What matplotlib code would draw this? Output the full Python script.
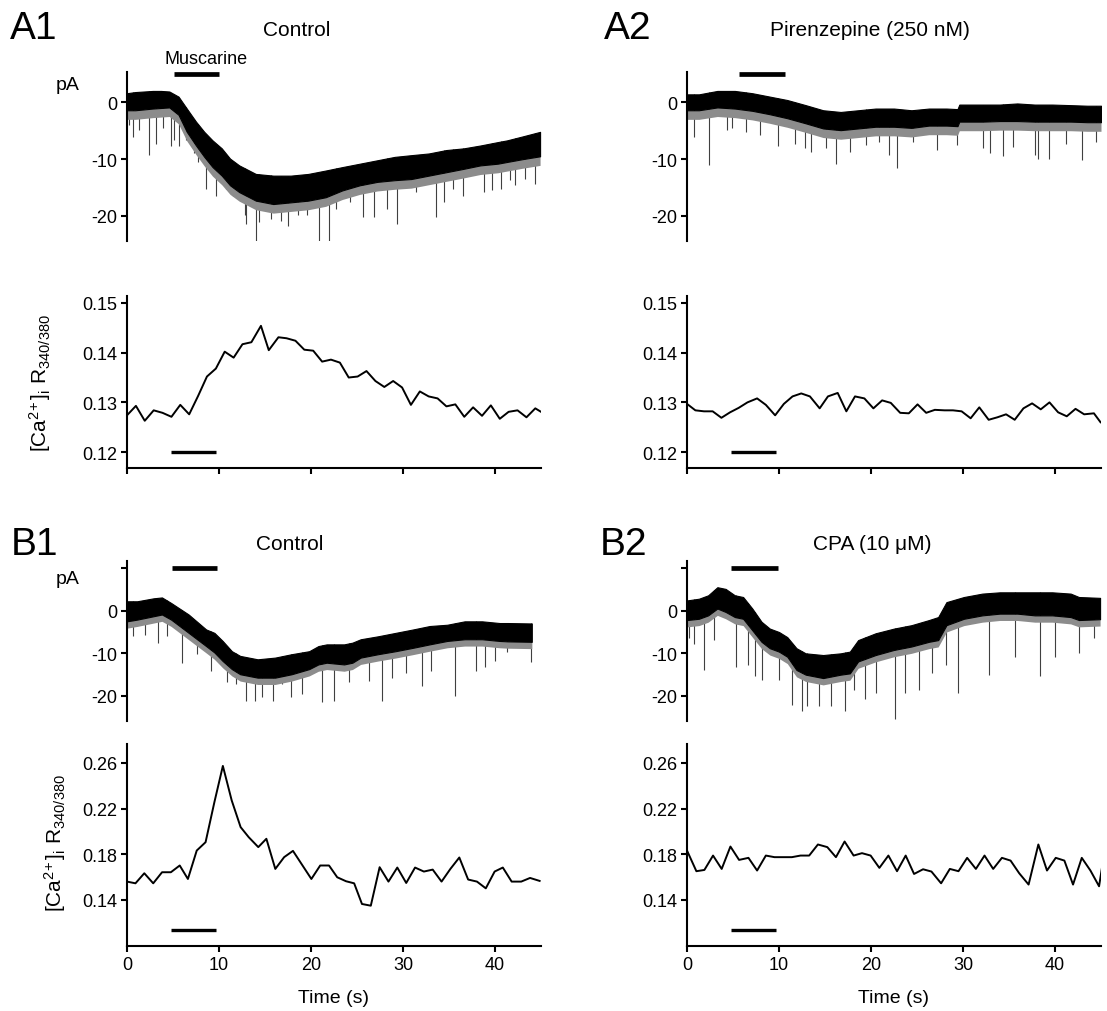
import numpy as np
import matplotlib
matplotlib.use('Agg')
import matplotlib.pyplot as plt

plt.rcParams['font.family'] = ['Liberation Sans', 'DejaVu Sans']
plt.rcParams['mathtext.fontset'] = 'custom'
plt.rcParams['mathtext.rm'] = 'Liberation Sans'
plt.rcParams['mathtext.it'] = 'Liberation Sans:italic'
plt.rcParams['mathtext.bf'] = 'Liberation Sans:bold'

# ---------------- current traces: band envelopes (pA) ----------------
a1_t = [0, 0.9, 2.8, 3.7, 4.6, 5.6, 6.5, 7.5, 8.4, 9.3, 10.3, 11.2, 12.2, 14.0, 15.9,
        17.8, 19.7, 21.6, 23.4, 25.3, 27.2, 29.1, 30.9, 32.8, 34.7, 36.6, 38.4, 40.3,
        41.3, 43.0, 44.9]
a1_up = [1.6, 1.8, 2.0, 2.0, 1.9, 1.0, -1.1, -3.4, -5.2, -6.7, -8.1, -9.9, -11.1, -12.6,
         -12.9, -12.9, -12.6, -12.0, -11.4, -10.8, -10.2, -9.6, -9.3, -9.0, -8.4, -8.1,
         -7.6, -7.0, -6.7, -6.0, -5.2]
a1_lo = [-1.4, -1.4, -1.1, -1.0, -0.9, -2.2, -5.2, -7.6, -9.6, -11.4, -12.9, -14.6, -15.8,
         -17.3, -17.9, -17.6, -17.3, -16.7, -15.5, -14.6, -14.0, -13.7, -13.5, -12.9,
         -12.3, -11.7, -11.1, -10.8, -10.5, -10.0, -9.5]
a1_spk_t = [0.2, 0.6, 1.3, 2.4, 3.2, 3.9, 4.8, 5.1, 5.7, 6.4, 7.3, 7.7, 8.6, 9.7, 10.8,
            11.5, 12.8, 12.9, 14.0, 14.4, 15.7, 16.7, 17.5, 18.6, 19.6, 20.9, 22.0, 22.7,
            24.2, 25.6, 26.9, 28.3, 29.4, 31.4, 33.6, 34.5, 35.4, 36.5, 38.8, 39.7, 40.7,
            41.6, 42.2, 43.3, 44.4]
a1_spk_v = [-4.0, -6.1, -4.9, -9.2, -7.3, -4.6, -7.6, -6.7, -7.6, -6.7, -9.0, -10.5, -15.2,
            -16.4, -15.2, -16.4, -19.9, -21.4, -24.4, -21.1, -20.5, -20.8, -21.7, -19.9,
            -19.9, -24.4, -24.4, -18.8, -17.6, -20.2, -20.2, -18.8, -21.4, -15.8, -20.2,
            -17.6, -15.2, -16.4, -15.8, -15.5, -15.2, -13.7, -14.6, -13.5, -14.3]

a2_t = [0, 1.3, 3.3, 5.2, 7.1, 9.0, 10.9, 12.9, 14.8, 16.7, 18.6, 20.5, 22.5, 24.4, 26.3,
        28.2, 29.4, 29.6, 32.1, 34.0, 35.9, 37.8, 39.7, 41.7, 43.5, 45.0]
a2_up = [1.4, 1.4, 2.0, 2.0, 1.6, 1.0, 0.4, -0.5, -1.4, -1.7, -1.4, -1.1, -1.1, -1.4, -1.1,
         -1.1, -1.2, -0.4, -0.4, -0.4, -0.2, -0.4, -0.4, -0.5, -0.6, -0.6]
a2_lo = [-1.4, -1.4, -0.9, -1.1, -1.5, -2.1, -2.8, -3.7, -4.6, -4.9, -4.6, -4.3, -4.3, -4.5,
         -4.1, -4.1, -4.2, -3.4, -3.4, -3.3, -3.3, -3.4, -3.4, -3.4, -3.5, -3.5]
a2_spk_t = [0.8, 2.4, 4.3, 4.9, 6.4, 7.9, 9.9, 11.7, 12.8, 13.5, 15.1, 16.2, 17.7, 19.5,
            20.9, 22.0, 22.8, 24.6, 27.2, 29.3, 32.2, 32.9, 34.3, 35.4, 37.8, 38.2, 39.3,
            41.2, 42.9, 44.5]
a2_spk_v = [-6.1, -11.0, -4.9, -4.6, -5.2, -5.8, -7.6, -7.3, -8.1, -8.7, -8.1, -10.8, -8.7,
            -7.5, -7.0, -9.2, -11.6, -7.0, -8.4, -7.5, -8.1, -9.0, -9.4, -7.8, -9.2, -10.0,
            -10.0, -7.3, -10.2, -6.9]

b1_t = [0, 1.1, 2.9, 3.8, 4.8, 6.7, 8.6, 9.5, 10.4, 11.4, 12.3, 14.2, 16.1, 17.9, 19.8,
        20.8, 21.7, 23.6, 24.5, 25.4, 27.3, 29.2, 31.1, 32.9, 34.8, 36.7, 38.6, 40.5,
        41.4, 44.0]
b1_up = [2.2, 2.2, 2.9, 3.1, 1.8, -0.9, -4.4, -5.2, -7.1, -9.5, -10.6, -11.4, -11.0, -10.2,
         -9.5, -8.3, -7.9, -7.9, -7.5, -6.7, -6.0, -5.2, -4.4, -3.6, -3.3, -2.5, -2.5,
         -2.9, -2.9, -3.0]
b1_lo = [-2.5, -2.1, -1.3, -0.9, -2.1, -5.2, -8.3, -9.8, -11.8, -13.7, -14.9, -15.7, -15.7,
         -14.9, -13.7, -12.6, -12.2, -12.6, -12.2, -11.0, -10.2, -9.5, -8.7, -7.9, -7.1,
         -6.7, -6.7, -7.1, -7.2, -7.3]
b1_spk_t = [0.7, 2.0, 3.4, 4.3, 6.0, 7.6, 9.1, 10.9, 11.8, 12.9, 13.9, 14.7, 15.9, 16.8,
            17.8, 19.0, 21.2, 22.5, 24.1, 26.3, 27.7, 28.8, 30.3, 32.1, 33.0, 35.7, 37.9,
            38.9, 40.0, 41.3, 43.9]
b1_spk_v = [-6.0, -5.6, -7.5, -6.0, -12.2, -10.2, -14.1, -16.8, -17.2, -21.1, -21.1, -20.3,
            -21.1, -17.2, -20.3, -19.5, -21.5, -21.1, -16.8, -16.4, -21.1, -15.7, -14.5,
            -17.6, -14.1, -19.9, -14.1, -13.3, -11.8, -9.8, -12.1]

b2_t = [0, 1.3, 2.3, 3.3, 4.2, 5.2, 6.1, 7.1, 8.1, 9.0, 10.0, 10.9, 11.9, 12.9, 14.8, 16.7,
        17.7, 18.6, 20.5, 22.5, 24.4, 26.3, 27.3, 28.2, 30.1, 32.1, 34.0, 35.9, 37.8, 39.7,
        41.7, 42.6, 44.9]
b2_up = [2.4, 2.8, 3.6, 5.5, 5.1, 3.6, 3.2, 0.5, -2.6, -4.2, -5.0, -6.2, -8.8, -10.0, -10.4,
         -10.0, -9.6, -6.9, -5.3, -4.2, -3.4, -2.2, -1.5, 2.0, 3.2, 4.0, 4.3, 4.3, 4.3, 4.3,
         4.0, 3.2, 3.0]
b2_lo = [-2.2, -1.9, -1.1, 0.5, -0.3, -1.5, -1.9, -4.6, -7.3, -8.8, -9.6, -10.8, -13.9,
         -15.0, -15.8, -15.0, -14.7, -11.9, -10.4, -9.2, -8.4, -7.3, -6.9, -3.4, -1.9, -1.1,
         -0.7, -0.7, -1.1, -1.1, -1.5, -2.2, -2.0]
b2_spk_t = [0.2, 0.8, 1.8, 2.9, 5.3, 6.6, 7.4, 8.2, 10.0, 11.4, 12.5, 13.0, 14.3, 15.6, 17.2,
            18.1, 19.4, 20.5, 22.6, 23.7, 25.2, 26.6, 28.1, 29.5, 32.8, 35.7, 38.4, 40.0,
            42.6, 44.2]
b2_spk_v = [-6.5, -7.7, -13.9, -6.9, -13.2, -12.8, -15.4, -16.2, -16.2, -22.0, -23.6, -22.4,
            -22.4, -22.4, -23.6, -18.5, -20.8, -19.3, -25.5, -19.3, -18.5, -14.6, -12.7,
            -19.3, -15.0, -10.8, -15.4, -10.8, -10.0, -6.5]

# ---------------- calcium ratio traces ----------------
a1_ca_t = [0, 0.97, 1.93, 2.90, 3.86, 4.83, 5.79, 6.76, 7.73, 8.69, 9.66, 10.62, 11.59,
           12.55, 13.52, 14.56, 15.41, 16.46, 17.34, 18.31, 19.27, 20.24, 21.21, 22.17,
           23.14, 24.10, 25.07, 26.03, 27.00, 27.97, 28.93, 29.90, 30.86, 31.83, 32.79,
           33.76, 34.72, 35.69, 36.66, 37.62, 38.59, 39.55, 40.52, 41.48, 42.45, 43.42,
           44.38, 45.0]
a1_ca_v = [0.1274, 0.1293, 0.1263, 0.1284, 0.1279, 0.1271, 0.1295, 0.1276, 0.1313, 0.1352,
           0.1368, 0.1402, 0.1390, 0.1417, 0.1421, 0.1454, 0.1405, 0.1431, 0.1429, 0.1424,
           0.1406, 0.1404, 0.1382, 0.1386, 0.1380, 0.1350, 0.1352, 0.1363, 0.1343, 0.1331,
           0.1343, 0.1330, 0.1295, 0.1322, 0.1312, 0.1308, 0.1292, 0.1296, 0.1271, 0.1290,
           0.1273, 0.1294, 0.1267, 0.1281, 0.1284, 0.1270, 0.1288, 0.1281]

a2_ca_t = [0, 0.91, 1.85, 2.79, 3.74, 4.68, 5.62, 6.57, 7.62, 8.57, 9.58, 10.53, 11.47,
           12.42, 13.36, 14.42, 15.32, 16.38, 17.32, 18.26, 19.28, 20.26, 21.21, 22.15,
           23.17, 24.11, 25.06, 26.00, 26.94, 28.00, 28.91, 29.85, 30.83, 31.77, 32.79,
           33.74, 34.68, 35.62, 36.57, 37.51, 38.45, 39.40, 40.34, 41.28, 42.23, 43.17,
           44.23, 44.95]
a2_ca_v = [0.1297, 0.1284, 0.1282, 0.1282, 0.1269, 0.1280, 0.1289, 0.1300, 0.1308, 0.1295,
           0.1274, 0.1297, 0.1312, 0.1318, 0.1312, 0.1288, 0.1312, 0.1319, 0.1282, 0.1312,
           0.1308, 0.1288, 0.1304, 0.1299, 0.1279, 0.1278, 0.1296, 0.1279, 0.1285, 0.1284,
           0.1284, 0.1282, 0.1268, 0.1290, 0.1265, 0.1270, 0.1276, 0.1265, 0.1288, 0.1298,
           0.1286, 0.1300, 0.1280, 0.1272, 0.1287, 0.1276, 0.1278, 0.1260]

b1_ca_t = [0, 0.92, 1.88, 2.85, 3.81, 4.77, 5.73, 6.62, 7.58, 8.54, 9.50, 10.42, 11.38,
           12.35, 13.23, 14.27, 15.15, 16.12, 17.08, 18.04, 19.08, 20.04, 21.00, 21.96,
           22.85, 23.81, 24.69, 25.54, 26.50, 27.46, 28.42, 29.38, 30.35, 31.31, 32.27,
           33.23, 34.19, 35.15, 36.12, 37.08, 38.04, 39.00, 39.96, 40.85, 41.81, 42.85,
           43.81, 44.85]
b1_ca_v = [0.1561, 0.1546, 0.1634, 0.1546, 0.1643, 0.1643, 0.1702, 0.1584, 0.1833, 0.1906,
           0.2257, 0.2574, 0.2272, 0.2038, 0.1950, 0.1863, 0.1936, 0.1672, 0.1775, 0.1830,
           0.1702, 0.1584, 0.1702, 0.1702, 0.1599, 0.1564, 0.1546, 0.1365, 0.1350, 0.1687,
           0.1561, 0.1684, 0.1549, 0.1684, 0.1649, 0.1666, 0.1561, 0.1672, 0.1772, 0.1579,
           0.1561, 0.1502, 0.1649, 0.1684, 0.1561, 0.1561, 0.1593, 0.1567]

b2_ca_t = [0, 1.02, 1.89, 2.83, 3.77, 4.72, 5.66, 6.68, 7.62, 8.57, 9.51, 10.45, 11.40,
           12.34, 13.28, 14.23, 15.25, 16.19, 17.13, 18.11, 19.02, 19.96, 20.91, 21.89,
           22.83, 23.77, 24.68, 25.66, 26.57, 27.62, 28.57, 29.51, 30.45, 31.40, 32.34,
           33.28, 34.23, 35.17, 36.11, 37.13, 38.19, 39.13, 40.08, 41.02, 41.96, 42.91,
           43.85, 44.79, 45.17]
b2_ca_v = [0.1833, 0.1652, 0.1663, 0.1789, 0.1672, 0.1868, 0.1751, 0.1769, 0.1658, 0.1789,
           0.1775, 0.1775, 0.1775, 0.1789, 0.1789, 0.1886, 0.1863, 0.1775, 0.1912, 0.1789,
           0.1810, 0.1789, 0.1681, 0.1789, 0.1652, 0.1789, 0.1628, 0.1669, 0.1649, 0.1546,
           0.1672, 0.1652, 0.1769, 0.1672, 0.1789, 0.1672, 0.1769, 0.1745, 0.1634, 0.1535,
           0.1886, 0.1658, 0.1769, 0.1745, 0.1535, 0.1769, 0.1658, 0.1520, 0.1716]

# drug application bars (s)
bar_a1 = [5.1, 10.0]
bar_a2 = [5.7, 10.6]
bar_b1 = [4.9, 9.8]
bar_b2 = [4.8, 9.9]
bar_ca = [4.8, 9.7]

panel_letters = ['A1', 'A2', 'B1', 'B2']
titles = ['Control', 'Pirenzepine (250 nM)', 'Control', 'CPA (10 \u03bcM)']
ca_label = r'$[\mathrm{Ca}^{2\!+}]_\mathrm{i}\ \mathrm{R}_{340/380}$'

# ---------------- layout ----------------
W, H = 1107, 1012
fig = plt.figure(figsize=(W / 100, H / 100), dpi=100)


def add_ax(x0, x1, ytop, ybot):
    return fig.add_axes([x0 / W, 1 - ybot / H, (x1 - x0) / W, (ybot - ytop) / H])


def ftext(x, y, s, **kw):
    fig.text(x / W, 1 - y / H, s, ha='center', va='center', **kw)


LW = 1.5
TICK_FS = 13


def current_panel(ax, t, up, lo, st, sv, ylim, yticks, ylabels, bar, bar_y):
    t = np.asarray(t); up = np.asarray(up); lo = np.asarray(lo)
    base = np.interp(st, t, up)
    ax.vlines(st, sv, base, color='0.25', lw=0.8, zorder=2)
    # fringe of unresolved small events below the dense band
    ax.fill_between(t, lo - 1.6, lo, color='0.55', lw=0, zorder=2.5)
    ax.fill_between(t, lo, up, facecolor='black', edgecolor='black', lw=0.8, zorder=3)
    ax.set_xlim(0, 45)
    ax.set_ylim(*ylim)
    for s in ['top', 'right', 'bottom']:
        ax.spines[s].set_visible(False)
    ax.spines['left'].set_linewidth(LW)
    ax.set_xticks([])
    ax.set_yticks(yticks)
    ax.set_yticklabels(ylabels)
    ax.tick_params(axis='y', direction='out', length=4, width=LW, labelsize=TICK_FS, pad=3)
    ax.plot(bar, [bar_y, bar_y], color='black', lw=3.4, solid_capstyle='butt',
            clip_on=False, zorder=5)
    ax.patch.set_visible(False)


def ca_panel(ax, t, v, ylim, yticks, ylabels, bar, bar_y, xlabels):
    ax.plot(t, v, color='black', lw=1.4, zorder=3)
    ax.set_xlim(0, 45)
    ax.set_ylim(*ylim)
    for s in ['top', 'right']:
        ax.spines[s].set_visible(False)
    ax.spines['left'].set_linewidth(LW)
    ax.spines['bottom'].set_linewidth(LW)
    ax.set_yticks(yticks)
    ax.set_yticklabels(ylabels)
    ax.set_xticks([0, 10, 20, 30, 40])
    if xlabels:
        ax.set_xticklabels(['0', '10', '20', '30', '40'])
        ax.set_xlabel('Time (s)', fontsize=14, labelpad=12)
    else:
        ax.set_xticklabels([])
    ax.tick_params(direction='out', length=4, width=LW, labelsize=TICK_FS, pad=3)
    ax.plot(bar, [bar_y, bar_y], color='black', lw=2.4, solid_capstyle='butt', zorder=5)
    ax.patch.set_visible(False)


LX0, LX1 = 127, 541
RX0, RX1 = 687, 1101

ylim_ai = (-24.4, 5.33)
ylim_bi = (-25.86, 11.64)
ylim_aca = (0.1168, 0.1514)
ylim_bca = (0.0997, 0.2766)

ax_a1 = add_ax(LX0, LX1, 73, 242)
current_panel(ax_a1, a1_t, a1_up, a1_lo, a1_spk_t, a1_spk_v, ylim_ai, [0, -10, -20],
              ['0', '-10', '-20'], bar_a1, 5.0)
ax_a2 = add_ax(RX0, RX1, 73, 242)
current_panel(ax_a2, a2_t, a2_up, a2_lo, a2_spk_t, a2_spk_v, ylim_ai, [0, -10, -20],
              ['0', '-10', '-20'], bar_a2, 5.0)

ax_a1c = add_ax(LX0, LX1, 297, 469)
ca_panel(ax_a1c, a1_ca_t, a1_ca_v, ylim_aca, [0.12, 0.13, 0.14, 0.15],
         ['0.12', '0.13', '0.14', '0.15'], bar_ca, 0.12, False)
ax_a2c = add_ax(RX0, RX1, 297, 469)
ca_panel(ax_a2c, a2_ca_t, a2_ca_v, ylim_aca, [0.12, 0.13, 0.14, 0.15],
         ['0.12', '0.13', '0.14', '0.15'], bar_ca, 0.12, False)

ax_b1 = add_ax(LX0, LX1, 562, 722)
current_panel(ax_b1, b1_t, b1_up, b1_lo, b1_spk_t, b1_spk_v, ylim_bi, [10, 0, -10, -20],
              ['', '0', '-10', '-20'], bar_b1, 10.0)
ax_b2 = add_ax(RX0, RX1, 562, 722)
current_panel(ax_b2, b2_t, b2_up, b2_lo, b2_spk_t, b2_spk_v, ylim_bi, [10, 0, -10, -20],
              ['', '0', '-10', '-20'], bar_b2, 10.0)

ax_b1c = add_ax(LX0, LX1, 745, 947)
ca_panel(ax_b1c, b1_ca_t, b1_ca_v, ylim_bca, [0.14, 0.18, 0.22, 0.26],
         ['0.14', '0.18', '0.22', '0.26'], bar_ca, 0.1136, True)
ax_b2c = add_ax(RX0, RX1, 745, 947)
ca_panel(ax_b2c, b2_ca_t, b2_ca_v, ylim_bca, [0.14, 0.18, 0.22, 0.26],
         ['0.14', '0.18', '0.22', '0.26'], bar_ca, 0.1136, True)

# ---------------- text ----------------
ftext(34, 29, panel_letters[0], fontsize=28)
ftext(628, 29, panel_letters[1], fontsize=28)
ftext(34, 545, panel_letters[2], fontsize=28)
ftext(624, 545, panel_letters[3], fontsize=28)
ftext(297, 31, titles[0], fontsize=15)
ftext(870, 31, titles[1], fontsize=15)
ftext(290, 544, titles[2], fontsize=15)
ftext(872, 544, titles[3], fontsize=15)
ftext(206, 60, 'Muscarine', fontsize=13)
ftext(68, 86, 'pA', fontsize=14)
ftext(68, 580, 'pA', fontsize=14)
ftext(40, 383, ca_label, fontsize=15, rotation=90)
ftext(55, 843, ca_label, fontsize=15, rotation=90)

fig.savefig('out.png', dpi=100)
